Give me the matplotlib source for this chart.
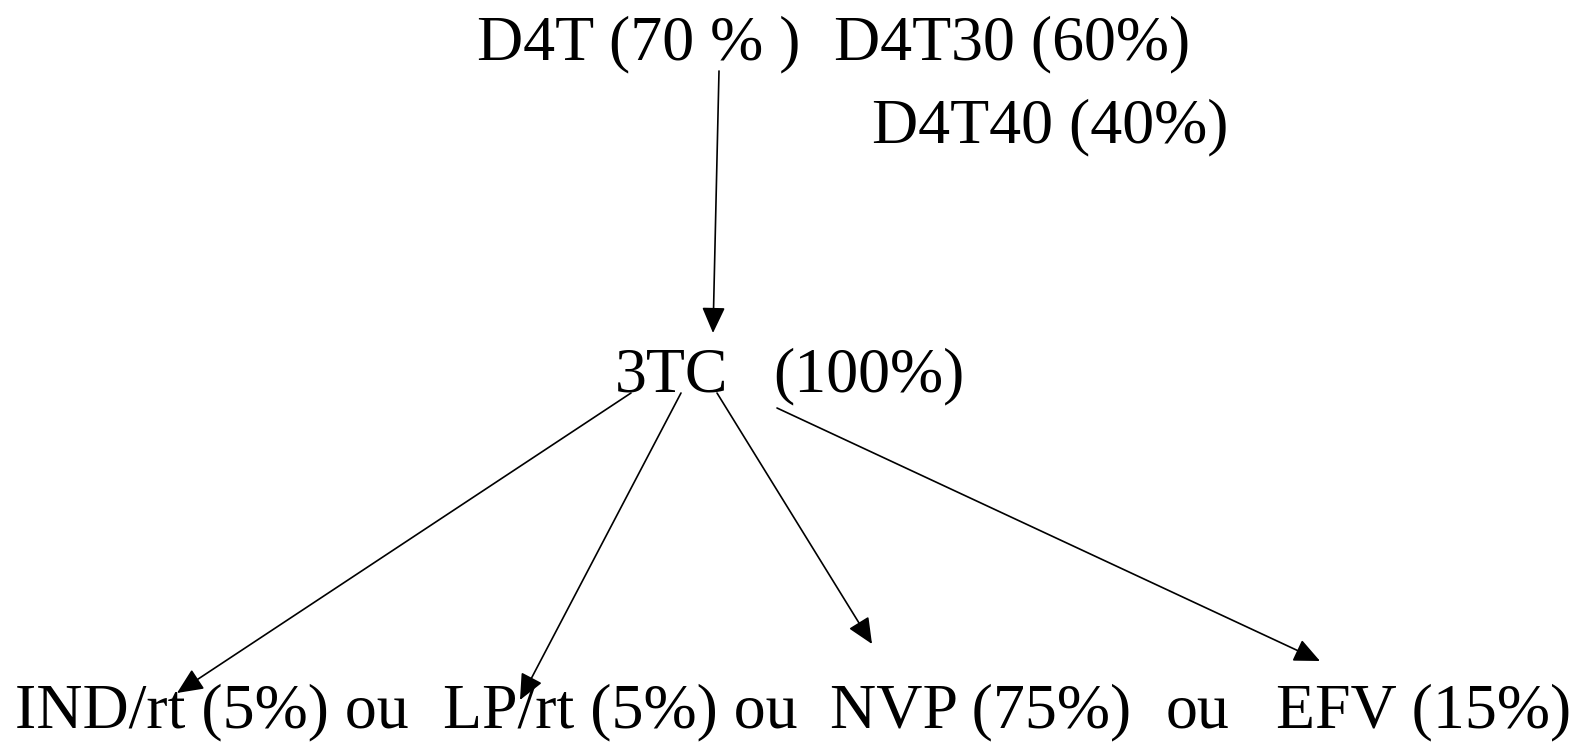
import matplotlib.pyplot as plt
from matplotlib.patches import FancyArrowPatch

# Diagram content (pixel layout of the original picture, y grows downward)
labels = [
    "D4T (70 % )", "D4T30 (60%)",
    "D4T40 (40%)",
    "3TC", "(100%)",
    "IND/rt (5%) ou", "LP/rt (5%) ou", "NVP (75%)", "ou", "EFV (15%)",
]
label_x = [477, 834, 872, 615, 773, 15, 443, 830, 1166, 1276]
label_y = [59, 59, 142, 391, 391, 727, 727, 727, 727, 727]

arrow_start = [(719, 71), (631, 393), (681, 393), (717, 393), (777, 408)]
arrow_end = [(713, 333), (177, 693), (520, 700), (872, 644), (1320, 661)]

W, H = 1590, 743

fig = plt.figure(figsize=(W / 100, H / 100), dpi=100)
ax = fig.add_axes([0, 0, 1, 1])
ax.set_xlim(0, W)
ax.set_ylim(H, 0)
ax.set_axis_off()

for txt, x, y in zip(labels, label_x, label_y):
    ax.text(x, y, txt, ha="left", va="baseline", fontsize=46,
            family="Liberation Serif", color="black")

for (x0, y0), (x1, y1) in zip(arrow_start, arrow_end):
    ax.add_patch(FancyArrowPatch(
        (x0, y0), (x1, y1),
        arrowstyle="-|>,head_length=0.8,head_width=0.36",
        mutation_scale=20, lw=1.2, color="black",
        shrinkA=0, shrinkB=0))

fig.savefig("out.png", dpi=100, facecolor="white")
